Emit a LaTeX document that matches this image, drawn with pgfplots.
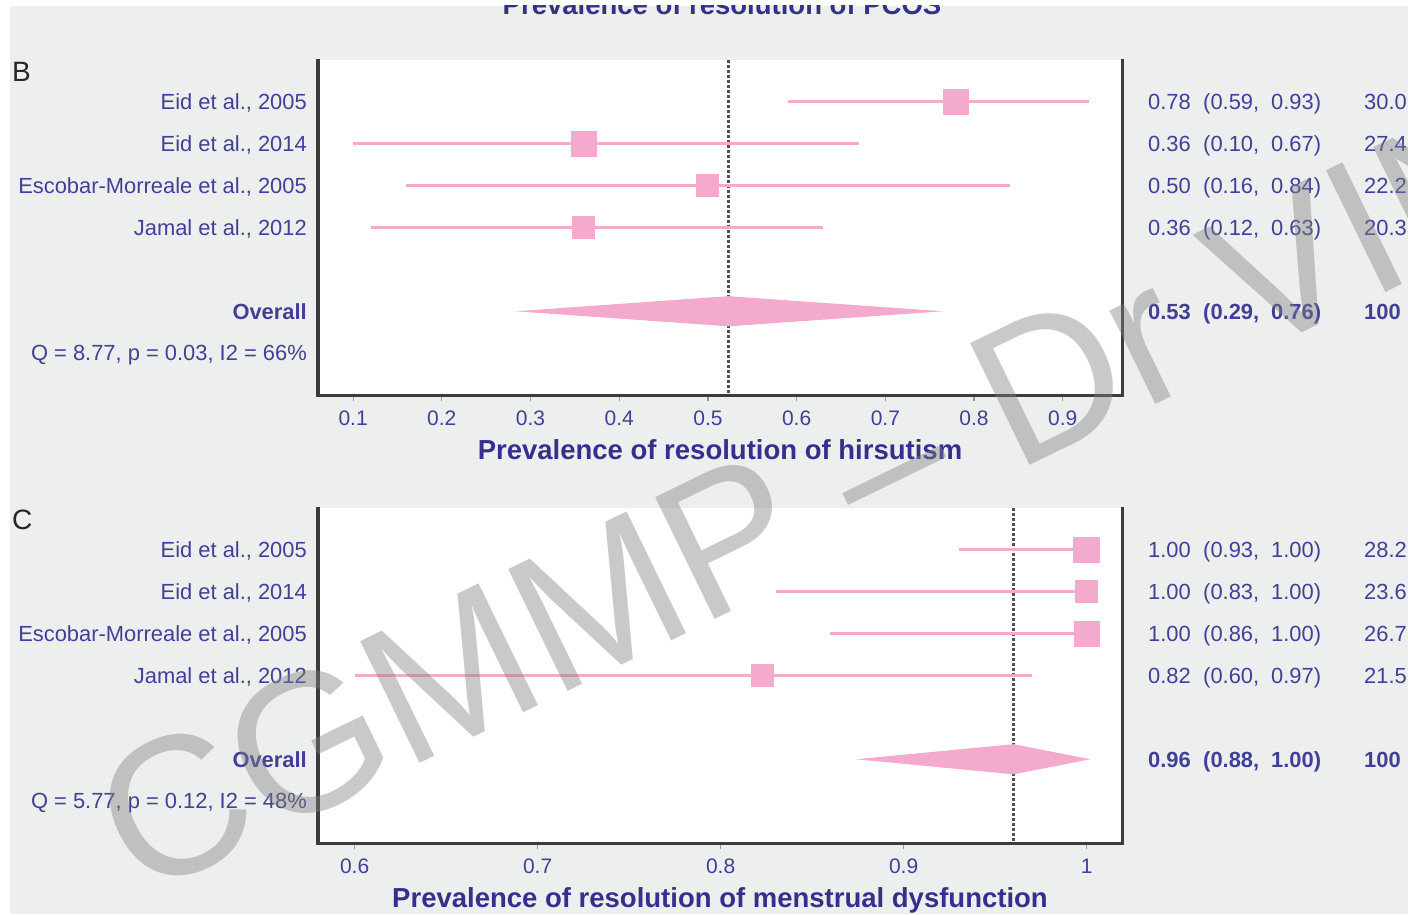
\documentclass[border=0pt]{standalone}
\usepackage{fontspec}
\setmainfont{Liberation Sans}
\usepackage{pgfplots}
\pgfplotsset{compat=1.18}
\definecolor{bg}{RGB}{237,239,239}
\definecolor{tblue}{RGB}{66,64,150}
\definecolor{lblue}{RGB}{52,48,140}
\definecolor{fpink}{RGB}{244,170,204}
\definecolor{framec}{RGB}{60,60,60}
\definecolor{tickc}{RGB}{150,150,150}
\definecolor{dotc}{RGB}{80,80,80}
\newcommand\rowfont{\fontsize{21.9}{24}\selectfont}
\pgfplotsset{forest/.style={
  scale only axis, width=804pt, height=335pt,
  y dir=reverse, ymin=0, ymax=8, ytick=\empty,
  axis x line*=bottom, axis y line*=box,
  axis line style={line width=3pt, draw=framec, line cap=rect},
  axis background/.style={fill=white},
  tick align=outside, major tick length=6pt,
  xtick style={draw=tickc, line width=1.2pt},
  xticklabel style={font=\fontsize{21}{24}\selectfont, text=tblue, anchor=base, inner sep=0pt, yshift=-24pt},
  /pgf/number format/assume math mode=true,
  xlabel style={font=\fontsize{27.5}{30}\selectfont\bfseries, text=lblue, anchor=base, at={(axis description cs:0.5,0)}, yshift=-64pt, inner sep=0pt},
  clip=false,
}}
% row label: #1 y, #2 text
\newcommand\rowlab[2]{\node[anchor=base east, inner sep=0pt, font=\rowfont, text=tblue, xshift=-11pt, yshift=-7.8pt] at (axis cs:\xl,#1) {#2};}
% right columns: #1 y, #2 est, #3 lo, #4 hi, #5 weight, #6 font switch
\newcommand\rcol[6]{%
  \node[anchor=base west, inner sep=0pt, font=\rowfont#6, text=tblue, xshift=26pt, yshift=-7.8pt] at (axis cs:\xr,#1) {#2};
  \node[anchor=base west, inner sep=0pt, font=\rowfont#6, text=tblue, xshift=81pt, yshift=-7.8pt] at (axis cs:\xr,#1) {(#3,};
  \node[anchor=base west, inner sep=0pt, font=\rowfont#6, text=tblue, xshift=149pt, yshift=-7.8pt] at (axis cs:\xr,#1) {#4)};
  \node[anchor=base west, inner sep=0pt, font=\rowfont#6, text=tblue, xshift=242pt, yshift=-7.8pt] at (axis cs:\xr,#1) {#5};}
\tikzset{ci/.style={draw=fpink, line width=3pt, no markers},
  sq/.style={only marks, color=fpink, mark=square*, mark options={fill=fpink, draw=fpink, line width=0pt}}}
\begin{document}
\begin{tikzpicture}[x=1pt,y=1pt]
\path[use as bounding box] (0,0) rectangle (1408,914);
\fill[bg] (10,0) rectangle (1408,908);
\begin{scope}
\clip (10,0) rectangle (1408,908);
\node[anchor=base, inner sep=0pt, font=\fontsize{27.5}{30}\selectfont\bfseries, text=lblue] at (722,899) {Prevalence of resolution of PCOS};
\end{scope}
\node[anchor=base west, inner sep=0pt, font=\fontsize{28}{30}\selectfont, text=black!85] at (12,832) {B};
\node[anchor=base west, inner sep=0pt, font=\fontsize{28}{30}\selectfont, text=black!85] at (12,384) {C};

% ---------------- Panel B
\def\xl{0.0604}\def\xr{0.9668}
\begin{axis}[forest, at={(318pt,519pt)}, anchor=south west,
  xmin=0.0604, xmax=0.9668,
  xtick={0.1,0.2,0.3,0.4,0.5,0.6,0.7,0.8,0.9},
  xticklabels={0.1,0.2,0.3,0.4,0.5,0.6,0.7,0.8,0.9},
  xlabel={Prevalence of resolution of hirsutism}]
\addplot[draw=dotc, line width=2.6pt, dash pattern=on 2.6pt off 2.4pt] coordinates {(0.523,0) (0.523,8)};
\addplot[ci] coordinates {(0.59,1) (0.93,1)};
\addplot[ci] coordinates {(0.10,2) (0.67,2)};
\addplot[ci] coordinates {(0.16,3) (0.84,3)};
\addplot[ci] coordinates {(0.12,4) (0.63,4)};
\addplot[sq, mark size=12.6pt] coordinates {(0.78,1)};
\addplot[sq, mark size=12.6pt] coordinates {(0.36,2)};
\addplot[sq, mark size=11pt] coordinates {(0.50,3)};
\addplot[sq, mark size=10.8pt] coordinates {(0.36,4)};
\addplot[fill=fpink, draw=none] coordinates {(0.283,6) (0.523,5.64) (0.765,6) (0.523,6.36) (0.283,6)};
\rowlab{1}{Eid et al., 2005}
\rowlab{2}{Eid et al., 2014}
\rowlab{3}{Escobar-Morreale et al., 2005}
\rowlab{4}{Jamal et al., 2012}
\rowlab{6}{\bfseries Overall}
\rowlab{7}{Q = 8.77, p = 0.03, I2 = 66\%}
\rcol{1}{0.78}{0.59}{0.93}{30.0}{}
\rcol{2}{0.36}{0.10}{0.67}{27.4}{}
\rcol{3}{0.50}{0.16}{0.84}{22.2}{}
\rcol{4}{0.36}{0.12}{0.63}{20.3}{}
\rcol{6}{0.53}{0.29}{0.76}{100}{\bfseries}
\end{axis}

% ---------------- Panel C
\def\xl{0.580}\def\xr{1.0193}
\begin{axis}[forest, at={(318pt,71pt)}, anchor=south west,
  xmin=0.580, xmax=1.0193,
  xtick={0.6,0.7,0.8,0.9,1.0},
  xticklabels={0.6,0.7,0.8,0.9,1},
  xlabel={Prevalence of resolution of menstrual dysfunction}]
\addplot[draw=dotc, line width=2.6pt, dash pattern=on 2.6pt off 2.4pt] coordinates {(0.96,0) (0.96,8)};
\addplot[ci] coordinates {(0.93,1) (1.00,1)};
\addplot[ci] coordinates {(0.83,2) (1.00,2)};
\addplot[ci] coordinates {(0.86,3) (1.00,3)};
\addplot[ci] coordinates {(0.60,4) (0.97,4)};
\addplot[sq, mark size=12.8pt] coordinates {(1.00,1)};
\addplot[sq, mark size=11pt] coordinates {(1.00,2)};
\addplot[sq, mark size=12.6pt] coordinates {(1.00,3)};
\addplot[sq, mark size=11.2pt] coordinates {(0.823,4)};
\addplot[fill=fpink, draw=none] coordinates {(0.874,6) (0.96,5.64) (1.002,6) (0.96,6.36) (0.874,6)};
\rowlab{1}{Eid et al., 2005}
\rowlab{2}{Eid et al., 2014}
\rowlab{3}{Escobar-Morreale et al., 2005}
\rowlab{4}{Jamal et al., 2012}
\rowlab{6}{\bfseries Overall}
\rowlab{7}{Q = 5.77, p = 0.12, I2 = 48\%}
\rcol{1}{1.00}{0.93}{1.00}{28.2}{}
\rcol{2}{1.00}{0.83}{1.00}{23.6}{}
\rcol{3}{1.00}{0.86}{1.00}{26.7}{}
\rcol{4}{0.82}{0.60}{0.97}{21.5}{}
\rcol{6}{0.96}{0.88}{1.00}{100}{\bfseries}
\end{axis}

% watermark
\begin{scope}
\clip (0,0) rectangle (1408,914);
\node[rotate=26, anchor=base west, inner sep=0pt, font=\fontsize{197}{200}\selectfont, text=black!50, text opacity=0.42] at (140,14) {CGMMP – Dr VIN};
\end{scope}
\end{tikzpicture}
\end{document}
